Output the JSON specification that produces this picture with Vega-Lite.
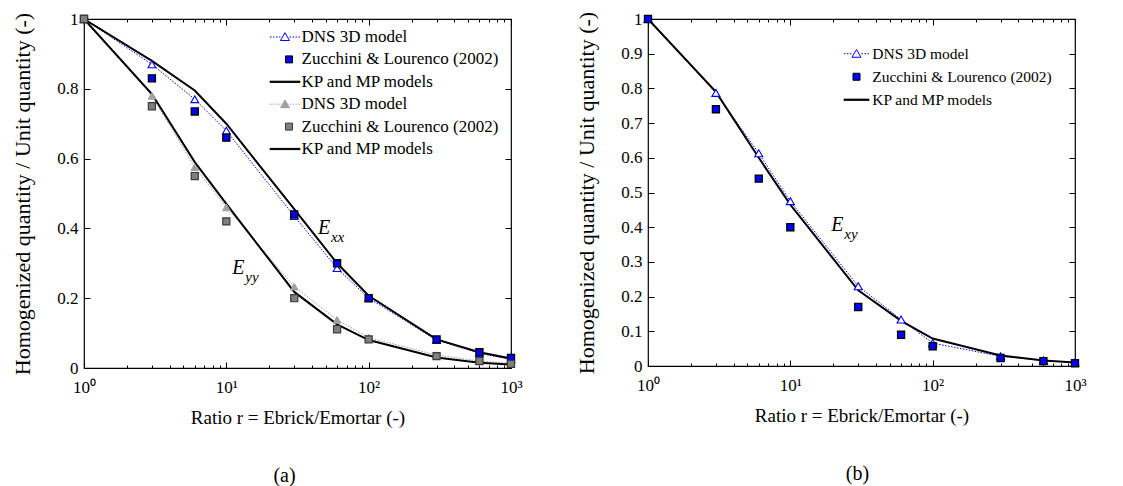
{
  "$schema": "https://vega.github.io/schema/vega-lite/v6.json",
  "background": "white",
  "padding": {"left": 11, "top": 9, "right": 0, "bottom": 0},
  "config": {
    "view": {"stroke": "black", "strokeWidth": 1.2},
    "font": "Liberation Serif"
  },
  "datasets": {
    "a": [
      {"s":"dxx","x":1,"y":1},{"s":"dxx","x":3,"y":0.87},{"s":"dxx","x":6,"y":0.77},{"s":"dxx","x":10,"y":0.68},{"s":"dxx","x":30,"y":0.435},{"s":"dxx","x":60,"y":0.286},{"s":"dxx","x":100,"y":0.2},{"s":"dxx","x":300,"y":0.08},{"s":"dxx","x":600,"y":0.042},{"s":"dxx","x":1000,"y":0.025},
      {"s":"zxx","x":1,"y":1},{"s":"zxx","x":3,"y":0.83},{"s":"zxx","x":6,"y":0.735},{"s":"zxx","x":10,"y":0.66},{"s":"zxx","x":30,"y":0.44},{"s":"zxx","x":60,"y":0.30},{"s":"zxx","x":100,"y":0.2},{"s":"zxx","x":300,"y":0.082},{"s":"zxx","x":600,"y":0.045},{"s":"zxx","x":1000,"y":0.029},
      {"s":"kxx","x":1,"y":1},{"s":"kxx","x":3,"y":0.88},{"s":"kxx","x":6,"y":0.795},{"s":"kxx","x":10,"y":0.70},{"s":"kxx","x":30,"y":0.455},{"s":"kxx","x":60,"y":0.30},{"s":"kxx","x":100,"y":0.207},{"s":"kxx","x":300,"y":0.082},{"s":"kxx","x":600,"y":0.045},{"s":"kxx","x":1000,"y":0.027},
      {"s":"dyy","x":1,"y":1},{"s":"dyy","x":3,"y":0.78},{"s":"dyy","x":6,"y":0.575},{"s":"dyy","x":10,"y":0.46},{"s":"dyy","x":30,"y":0.233},{"s":"dyy","x":60,"y":0.138},{"s":"dyy","x":100,"y":0.087},{"s":"dyy","x":300,"y":0.037},{"s":"dyy","x":600,"y":0.02},{"s":"dyy","x":1000,"y":0.013},
      {"s":"zyy","x":1,"y":1},{"s":"zyy","x":3,"y":0.75},{"s":"zyy","x":6,"y":0.55},{"s":"zyy","x":10,"y":0.42},{"s":"zyy","x":30,"y":0.20},{"s":"zyy","x":60,"y":0.111},{"s":"zyy","x":100,"y":0.082},{"s":"zyy","x":300,"y":0.034},{"s":"zyy","x":600,"y":0.02},{"s":"zyy","x":1000,"y":0.012},
      {"s":"kyy","x":1,"y":1},{"s":"kyy","x":3,"y":0.785},{"s":"kyy","x":6,"y":0.59},{"s":"kyy","x":10,"y":0.47},{"s":"kyy","x":30,"y":0.218},{"s":"kyy","x":60,"y":0.125},{"s":"kyy","x":100,"y":0.08},{"s":"kyy","x":300,"y":0.03},{"s":"kyy","x":600,"y":0.015},{"s":"kyy","x":1000,"y":0.01}
    ],
    "b": [
      {"s":"d","x":1,"y":1},{"s":"d","x":3,"y":0.787},{"s":"d","x":6,"y":0.613},{"s":"d","x":10,"y":0.475},{"s":"d","x":30,"y":0.23},{"s":"d","x":60,"y":0.134},{"s":"d","x":100,"y":0.066},{"s":"d","x":300,"y":0.028},{"s":"d","x":600,"y":0.016},{"s":"d","x":1000,"y":0.01},
      {"s":"z","x":1,"y":1},{"s":"z","x":3,"y":0.74},{"s":"z","x":6,"y":0.54},{"s":"z","x":10,"y":0.40},{"s":"z","x":30,"y":0.17},{"s":"z","x":60,"y":0.09},{"s":"z","x":100,"y":0.057},{"s":"z","x":300,"y":0.023},{"s":"z","x":600,"y":0.014},{"s":"z","x":1000,"y":0.008},
      {"s":"k","x":1,"y":1},{"s":"k","x":3,"y":0.79},{"s":"k","x":6,"y":0.60},{"s":"k","x":10,"y":0.465},{"s":"k","x":30,"y":0.218},{"s":"k","x":60,"y":0.13},{"s":"k","x":100,"y":0.079},{"s":"k","x":300,"y":0.03},{"s":"k","x":600,"y":0.016},{"s":"k","x":1000,"y":0.01}
    ],
    "annA": [{"x":44,"y":0.40,"t":"E","sub":"xx"},{"x":11,"y":0.287,"t":"E","sub":"yy"}],
    "annB": [{"x":19.4,"y":0.406,"t":"E","sub":"xy"}]
  },
  "hconcat": [
    {
      "width": 427,
      "height": 349,
      "title": {"text": "(a)", "orient": "bottom", "anchor": "middle", "frame": "group", "dx": -13, "offset": 39, "font": "Liberation Serif", "fontSize": 20, "fontWeight": "normal", "color": "black"},
      "data": {"name": "a"},
      "resolve": {"axis": {"x": "independent", "y": "independent"}},
      "layer": [
        {
          "transform": [{"filter": "datum.s == 'dxx'"}],
          "mark": {"type": "line", "color": "#0000ff", "strokeWidth": 1, "strokeDash": [1.5, 1.5]},
          "encoding": {
            "x": {"field": "x", "type": "quantitative", "scale": {"type": "log", "domain": [1, 1000], "nice": false},
              "axis": {"orient": "bottom", "values": [1,2,3,4,5,6,7,8,9,10,20,30,40,50,60,70,80,90,100,200,300,400,500,600,700,800,900,1000],
                "labelExpr": "datum.value==1?'10⁰':datum.value==10?'10¹':datum.value==100?'10²':datum.value==1000?'10³':''",
                "tickSize": {"condition": {"test": "datum.value==1||datum.value==10||datum.value==100||datum.value==1000", "value": -6}, "value": -3},
                "tickColor": "black", "domain": false, "grid": false, "labelOverlap": false, "labelFlush": false,
                "labelFont": "Liberation Serif", "labelFontSize": 17, "labelColor": "black", "labelPadding": 17,
                "title": "Ratio r = Ebrick/Emortar (-)", "titleFont": "Liberation Serif", "titleFontSize": 19, "titleFontWeight": "normal", "titleColor": "black", "titlePadding": 10}},
            "y": {"field": "y", "type": "quantitative", "scale": {"domain": [0, 1], "nice": false, "zero": false},
              "axis": {"orient": "left", "values": [0, 0.2, 0.4, 0.6, 0.8, 1], "labelExpr": "format(datum.value, '~g')",
                "tickSize": -6, "tickColor": "black", "domain": false, "grid": false,
                "labelFont": "Liberation Serif", "labelFontSize": 17, "labelColor": "black", "labelPadding": 12,
                "title": "Homogenized quantity / Unit quantity (-)", "titleFont": "Liberation Serif", "titleFontSize": 22, "titleFontWeight": "normal", "titleColor": "black", "titlePadding": 22}}
          }
        },
        {
          "transform": [{"filter": "datum.s == 'dyy'"}],
          "mark": {"type": "line", "color": "#9a9a9a", "strokeWidth": 1, "strokeDash": [1.5, 1.5]},
          "encoding": {
            "x": {"field": "x", "type": "quantitative", "scale": {"type": "log", "domain": [1, 1000], "nice": false},
              "axis": {"orient": "top", "values": [1,2,3,4,5,6,7,8,9,10,20,30,40,50,60,70,80,90,100,200,300,400,500,600,700,800,900,1000], "labels": false,
                "tickSize": {"condition": {"test": "datum.value==1||datum.value==10||datum.value==100||datum.value==1000", "value": -6}, "value": -3},
                "tickColor": "black", "domain": false, "grid": false, "title": null}},
            "y": {"field": "y", "type": "quantitative", "scale": {"domain": [0, 1], "nice": false, "zero": false},
              "axis": {"orient": "right", "values": [0, 0.2, 0.4, 0.6, 0.8, 1], "labels": false, "tickSize": -6, "tickColor": "black", "domain": false, "grid": false, "title": null}}
          }
        },
        {
          "transform": [{"filter": "datum.s == 'kxx'"}],
          "mark": {"type": "line", "color": "black", "strokeWidth": 2},
          "encoding": {
            "x": {"field": "x", "type": "quantitative", "scale": {"type": "log", "domain": [1, 1000], "nice": false}, "axis": null},
            "y": {"field": "y", "type": "quantitative", "scale": {"domain": [0, 1], "nice": false, "zero": false}, "axis": null}
          }
        },
        {
          "transform": [{"filter": "datum.s == 'kyy'"}],
          "mark": {"type": "line", "color": "black", "strokeWidth": 2},
          "encoding": {
            "x": {"field": "x", "type": "quantitative", "scale": {"type": "log", "domain": [1, 1000], "nice": false}, "axis": null},
            "y": {"field": "y", "type": "quantitative", "scale": {"domain": [0, 1], "nice": false, "zero": false}, "axis": null}
          }
        },
        {
          "transform": [{"filter": "datum.s == 'dxx'"}],
          "mark": {"type": "point", "shape": "triangle-up", "size": 60, "filled": true, "fill": "white", "stroke": "#0000ff", "strokeWidth": 1.1, "opacity": 1},
          "encoding": {
            "x": {"field": "x", "type": "quantitative", "scale": {"type": "log", "domain": [1, 1000], "nice": false}, "axis": null},
            "y": {"field": "y", "type": "quantitative", "scale": {"domain": [0, 1], "nice": false, "zero": false}, "axis": null}
          }
        },
        {
          "transform": [{"filter": "datum.s == 'dyy'"}],
          "mark": {"type": "point", "shape": "triangle-up", "size": 60, "filled": true, "fill": "#a0a0a0", "stroke": "#a0a0a0", "strokeWidth": 1, "opacity": 1},
          "encoding": {
            "x": {"field": "x", "type": "quantitative", "scale": {"type": "log", "domain": [1, 1000], "nice": false}, "axis": null},
            "y": {"field": "y", "type": "quantitative", "scale": {"domain": [0, 1], "nice": false, "zero": false}, "axis": null}
          }
        },
        {
          "transform": [{"filter": "datum.s == 'zxx'"}],
          "mark": {"type": "point", "shape": "square", "size": 50, "filled": true, "fill": "#0000ff", "stroke": "black", "strokeWidth": 1.3, "opacity": 1},
          "encoding": {
            "x": {"field": "x", "type": "quantitative", "scale": {"type": "log", "domain": [1, 1000], "nice": false}, "axis": null},
            "y": {"field": "y", "type": "quantitative", "scale": {"domain": [0, 1], "nice": false, "zero": false}, "axis": null}
          }
        },
        {
          "transform": [{"filter": "datum.s == 'zyy'"}],
          "mark": {"type": "point", "shape": "square", "size": 50, "filled": true, "fill": "#808080", "stroke": "#3a3a3a", "strokeWidth": 1.2, "opacity": 1},
          "encoding": {
            "x": {"field": "x", "type": "quantitative", "scale": {"type": "log", "domain": [1, 1000], "nice": false}, "axis": null},
            "y": {"field": "y", "type": "quantitative", "scale": {"domain": [0, 1], "nice": false, "zero": false}, "axis": null}
          }
        },
        {
          "data": {"name": "annA"},
          "mark": {"type": "text", "align": "left", "baseline": "middle", "font": "Liberation Serif", "fontStyle": "italic", "fontSize": 20, "color": "black"},
          "encoding": {
            "x": {"field": "x", "type": "quantitative", "scale": {"type": "log", "domain": [1, 1000], "nice": false}, "axis": null},
            "y": {"field": "y", "type": "quantitative", "scale": {"domain": [0, 1], "nice": false, "zero": false}, "axis": null},
            "text": {"field": "t"}
          }
        },
        {
          "data": {"name": "annA"},
          "mark": {"type": "text", "align": "left", "baseline": "middle", "font": "Liberation Serif", "fontStyle": "italic", "fontSize": 15, "color": "black", "dx": 13, "dy": 9},
          "encoding": {
            "x": {"field": "x", "type": "quantitative", "scale": {"type": "log", "domain": [1, 1000], "nice": false}, "axis": null},
            "y": {"field": "y", "type": "quantitative", "scale": {"domain": [0, 1], "nice": false, "zero": false}, "axis": null},
            "text": {"field": "sub"}
          }
        },
        {
          "transform": [{"filter": "false"}],
          "mark": {"type": "point", "filled": true, "opacity": 1},
          "encoding": {
            "x": {"field": "x", "type": "quantitative", "scale": {"type": "log", "domain": [1, 1000], "nice": false}, "axis": null},
            "y": {"field": "y", "type": "quantitative", "scale": {"domain": [0, 1], "nice": false, "zero": false}, "axis": null},
            "shape": {"field": "s", "type": "nominal",
              "scale": {"domain": ["DNS 3D model", "Zucchini & Lourenco (2002)", "KP and MP models", "DNS 3D model ", "Zucchini & Lourenco (2002) ", "KP and MP models "],
                "range": [
                  "M-3,0h0.3M-2.4,0h0.3M-1.8,0h0.3M-1.2,0h0.3M0.9,0h0.3M1.5,0h0.3M2.1,0h0.3M2.7,0h0.3M0,-0.85L0.9,0.7L-0.9,0.7Z",
                  "M0.1,-0.7H1.5V0.7H0.1Z",
                  "M-3,-0.12H3V0.12H-3Z",
                  "M-3,0h0.3M-2.4,0h0.3M-1.8,0h0.3M-1.2,0h0.3M0.9,0h0.3M1.5,0h0.3M2.1,0h0.3M2.7,0h0.3M0,-0.85L0.9,0.7L-0.9,0.7Z",
                  "M0.1,-0.7H1.5V0.7H0.1Z",
                  "M-3,-0.12H3V0.12H-3Z"
                ]},
              "legend": {"orient": "none", "legendX": 186, "legendY": 9.5, "title": null, "padding": 0,
                "labelFont": "Liberation Serif", "labelFontSize": 17, "labelColor": "black", "labelLimit": 400,
                "symbolSize": 100, "symbolStrokeWidth": 1, "symbolOffset": 6.5, "labelOffset": 8, "rowPadding": 4.4, "symbolOpacity": 1}},
            "fill": {"field": "s", "type": "nominal",
              "scale": {"domain": ["DNS 3D model", "Zucchini & Lourenco (2002)", "KP and MP models", "DNS 3D model ", "Zucchini & Lourenco (2002) ", "KP and MP models "],
                "range": ["white", "#0000ff", "black", "#a0a0a0", "#808080", "black"]}},
            "stroke": {"field": "s", "type": "nominal",
              "scale": {"domain": ["DNS 3D model", "Zucchini & Lourenco (2002)", "KP and MP models", "DNS 3D model ", "Zucchini & Lourenco (2002) ", "KP and MP models "],
                "range": ["#0000ff", "black", "black", "#a0a0a0", "#3a3a3a", "black"]}}
          }
        }
      ]
    },
    {
      "width": 427,
      "height": 347,
      "title": {"text": "(b)", "orient": "bottom", "anchor": "middle", "frame": "group", "dx": -4, "offset": 39, "font": "Liberation Serif", "fontSize": 20, "fontWeight": "normal", "color": "black"},
      "data": {"name": "b"},
      "resolve": {"axis": {"x": "independent", "y": "independent"}},
      "layer": [
        {
          "transform": [{"filter": "datum.s == 'd'"}],
          "mark": {"type": "line", "color": "#0000ff", "strokeWidth": 1, "strokeDash": [1.5, 1.5]},
          "encoding": {
            "x": {"field": "x", "type": "quantitative", "scale": {"type": "log", "domain": [1, 1000], "nice": false},
              "axis": {"orient": "bottom", "values": [1,2,3,4,5,6,7,8,9,10,20,30,40,50,60,70,80,90,100,200,300,400,500,600,700,800,900,1000],
                "labelExpr": "datum.value==1?'10⁰':datum.value==10?'10¹':datum.value==100?'10²':datum.value==1000?'10³':''",
                "tickSize": {"condition": {"test": "datum.value==1||datum.value==10||datum.value==100||datum.value==1000", "value": -6}, "value": -3},
                "tickColor": "black", "domain": false, "grid": false, "labelOverlap": false, "labelFlush": false,
                "labelFont": "Liberation Serif", "labelFontSize": 17, "labelColor": "black", "labelPadding": 17,
                "title": "Ratio r = Ebrick/Emortar (-)", "titleFont": "Liberation Serif", "titleFontSize": 19, "titleFontWeight": "normal", "titleColor": "black", "titlePadding": 10}},
            "y": {"field": "y", "type": "quantitative", "scale": {"domain": [0, 1], "nice": false, "zero": false},
              "axis": {"orient": "left", "values": [0, 0.1, 0.2, 0.3, 0.4, 0.5, 0.6, 0.7, 0.8, 0.9, 1], "labelExpr": "format(datum.value, '~g')",
                "tickSize": -6, "tickColor": "black", "domain": false, "grid": false,
                "labelFont": "Liberation Serif", "labelFontSize": 17, "labelColor": "black", "labelPadding": 12,
                "title": "Homogenized quantity / Unit quantity (-)", "titleFont": "Liberation Serif", "titleFontSize": 22, "titleFontWeight": "normal", "titleColor": "black", "titlePadding": 22}}
          }
        },
        {
          "transform": [{"filter": "datum.s == 'k'"}],
          "mark": {"type": "line", "color": "black", "strokeWidth": 2},
          "encoding": {
            "x": {"field": "x", "type": "quantitative", "scale": {"type": "log", "domain": [1, 1000], "nice": false},
              "axis": {"orient": "top", "values": [1,2,3,4,5,6,7,8,9,10,20,30,40,50,60,70,80,90,100,200,300,400,500,600,700,800,900,1000], "labels": false,
                "tickSize": {"condition": {"test": "datum.value==1||datum.value==10||datum.value==100||datum.value==1000", "value": -6}, "value": -3},
                "tickColor": "black", "domain": false, "grid": false, "title": null}},
            "y": {"field": "y", "type": "quantitative", "scale": {"domain": [0, 1], "nice": false, "zero": false},
              "axis": {"orient": "right", "values": [0, 0.1, 0.2, 0.3, 0.4, 0.5, 0.6, 0.7, 0.8, 0.9, 1], "labels": false, "tickSize": -6, "tickColor": "black", "domain": false, "grid": false, "title": null}}
          }
        },
        {
          "transform": [{"filter": "datum.s == 'd'"}],
          "mark": {"type": "point", "shape": "triangle-up", "size": 65, "filled": true, "fill": "white", "stroke": "#0000ff", "strokeWidth": 1.1, "opacity": 1},
          "encoding": {
            "x": {"field": "x", "type": "quantitative", "scale": {"type": "log", "domain": [1, 1000], "nice": false}, "axis": null},
            "y": {"field": "y", "type": "quantitative", "scale": {"domain": [0, 1], "nice": false, "zero": false}, "axis": null}
          }
        },
        {
          "transform": [{"filter": "datum.s == 'z'"}],
          "mark": {"type": "point", "shape": "square", "size": 50, "filled": true, "fill": "#0000ff", "stroke": "black", "strokeWidth": 1.3, "opacity": 1},
          "encoding": {
            "x": {"field": "x", "type": "quantitative", "scale": {"type": "log", "domain": [1, 1000], "nice": false}, "axis": null},
            "y": {"field": "y", "type": "quantitative", "scale": {"domain": [0, 1], "nice": false, "zero": false}, "axis": null}
          }
        },
        {
          "data": {"name": "annB"},
          "mark": {"type": "text", "align": "left", "baseline": "middle", "font": "Liberation Serif", "fontStyle": "italic", "fontSize": 20, "color": "black"},
          "encoding": {
            "x": {"field": "x", "type": "quantitative", "scale": {"type": "log", "domain": [1, 1000], "nice": false}, "axis": null},
            "y": {"field": "y", "type": "quantitative", "scale": {"domain": [0, 1], "nice": false, "zero": false}, "axis": null},
            "text": {"field": "t"}
          }
        },
        {
          "data": {"name": "annB"},
          "mark": {"type": "text", "align": "left", "baseline": "middle", "font": "Liberation Serif", "fontStyle": "italic", "fontSize": 15, "color": "black", "dx": 13, "dy": 9},
          "encoding": {
            "x": {"field": "x", "type": "quantitative", "scale": {"type": "log", "domain": [1, 1000], "nice": false}, "axis": null},
            "y": {"field": "y", "type": "quantitative", "scale": {"domain": [0, 1], "nice": false, "zero": false}, "axis": null},
            "text": {"field": "sub"}
          }
        },
        {
          "transform": [{"filter": "false"}],
          "mark": {"type": "point", "filled": true, "opacity": 1},
          "encoding": {
            "x": {"field": "x", "type": "quantitative", "scale": {"type": "log", "domain": [1, 1000], "nice": false}, "axis": null},
            "y": {"field": "y", "type": "quantitative", "scale": {"domain": [0, 1], "nice": false, "zero": false}, "axis": null},
            "shape": {"field": "s", "type": "nominal",
              "scale": {"domain": ["DNS 3D model", "Zucchini & Lourenco (2002)", "KP and MP models"],
                "range": [
                  "M-2.5,0h0.3M-1.9,0h0.3M-1.3,0h0.3M1.0,0h0.3M1.6,0h0.3M2.2,0h0.3M0,-0.85L0.9,0.7L-0.9,0.7Z",
                  "M-0.7,-0.7H0.7V0.7H-0.7Z",
                  "M-2.5,-0.12H2.5V0.12H-2.5Z"
                ]},
              "legend": {"orient": "none", "legendX": 196, "legendY": 27, "title": null, "padding": 0,
                "labelFont": "Liberation Serif", "labelFontSize": 15.5, "labelColor": "black", "labelLimit": 400,
                "symbolSize": 100, "symbolStrokeWidth": 1, "symbolOffset": 4.75, "labelOffset": 8, "rowPadding": 6, "symbolOpacity": 1}},
            "fill": {"field": "s", "type": "nominal",
              "scale": {"domain": ["DNS 3D model", "Zucchini & Lourenco (2002)", "KP and MP models"],
                "range": ["white", "#0000ff", "black"]}},
            "stroke": {"field": "s", "type": "nominal",
              "scale": {"domain": ["DNS 3D model", "Zucchini & Lourenco (2002)", "KP and MP models"],
                "range": ["#0000ff", "black", "black"]}}
          }
        }
      ]
    }
  ],
  "spacing": 52,
  "resolve": {
    "scale": {"x": "independent", "y": "independent", "shape": "independent", "fill": "independent", "stroke": "independent"},
    "legend": {"shape": "independent", "fill": "independent", "stroke": "independent"}
  }
}
